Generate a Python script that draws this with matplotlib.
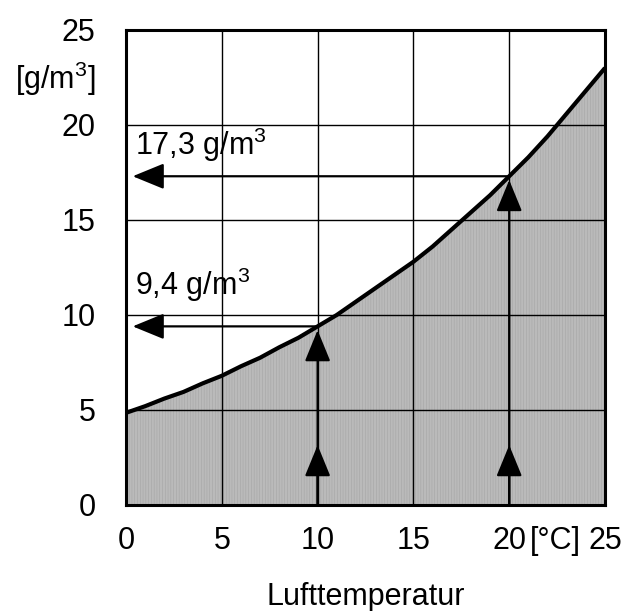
import matplotlib
matplotlib.use("Agg")
import matplotlib.pyplot as plt

# Sättigungsfeuchte der Luft über Lufttemperatur
temp = [0, 1, 2, 3, 4, 5, 6, 7, 8, 9, 10, 11, 12, 13, 14, 15, 16, 17, 18,
        19, 20, 21, 22, 23, 24, 25]
humid = [4.85, 5.2, 5.6, 5.95, 6.4, 6.8, 7.3, 7.75, 8.3, 8.8, 9.4, 10.0, 10.7,
         11.4, 12.1, 12.8, 13.6, 14.5, 15.4, 16.3, 17.3, 18.3, 19.4, 20.6,
         21.8, 23.0]

marks_t = [10, 20]
marks_h = [9.4, 17.3]
mark_labels = [r"9,4 g/m$^{\mathrm{3}}$", r"17,3 g/m$^{\mathrm{3}}$"]

xticks = [0, 5, 10, 15, 20, 25]
xticklabels = ["0", "5", "10", "15", "20", "25"]
yticks = [0, 5, 10, 15, 20, 25]

plt.rcParams["font.family"] = ["Liberation Sans", "DejaVu Sans"]
plt.rcParams["mathtext.fontset"] = "custom"
plt.rcParams["mathtext.rm"] = "Liberation Sans"
plt.rcParams["mathtext.it"] = "Liberation Sans"
plt.rcParams["hatch.linewidth"] = 0.4

fs = 22

fig = plt.figure(figsize=(6.25, 6.11), dpi=100)
ax = fig.add_axes([0.2016, 0.1735, 0.7664, 0.7775])

ax.fill_between(temp, humid, 0, facecolor="#bababa", edgecolor="#a5a5a5",
                hatch="||||||", linewidth=0, zorder=1)
ax.plot(temp, humid, color="black", lw=3.0, zorder=4, solid_capstyle="butt")

ax.set_xlim(0, 25)
ax.set_ylim(0, 25)
ax.set_xticks(xticks)
ax.set_xticklabels(xticklabels)
ax.set_yticks(yticks)
ax.grid(True, color="black", lw=1.0, zorder=2)
ax.set_axisbelow(False)
ax.tick_params(length=0, labelsize=fs)
ax.tick_params(axis="y", pad=22)
ax.tick_params(axis="x", pad=15)
for s in ax.spines.values():
    s.set_linewidth(2.2)
    s.set_zorder(5)

arrow = dict(arrowstyle="-|>,head_length=1.95,head_width=0.8", color="black",
             lw=1.6, shrinkA=0, shrinkB=0, mutation_scale=10)
for t, h in zip(marks_t, marks_h):
    # horizontal arrow to the y axis
    ax.annotate("", xy=(0.35, h), xytext=(t, h), arrowprops=arrow, zorder=6)
    # vertical arrow up to the curve, with a second head near the bottom
    ax.annotate("", xy=(t, h - 0.2), xytext=(t, 0), arrowprops=arrow, zorder=6)
    ax.annotate("", xy=(t, 3.15), xytext=(t, 0), arrowprops=arrow, zorder=6)

ax.text(0.45, 11.05, mark_labels[0], fontsize=fs, va="baseline", ha="left", zorder=7)
ax.text(0.45, 18.4, mark_labels[1], fontsize=fs, va="baseline", ha="left", zorder=7)

ax.text(22.42, -1.9, "[°C]", fontsize=fs, ha="center", va="center")
ax.text(-3.7, 22.4, r"[g/m$^{\mathrm{3}}$]", fontsize=fs, ha="center", va="center")
fig.text(0.585, 1 - 597 / 611, "Lufttemperatur", fontsize=fs, ha="center", va="center")

fig.savefig("out.png", dpi=100)
